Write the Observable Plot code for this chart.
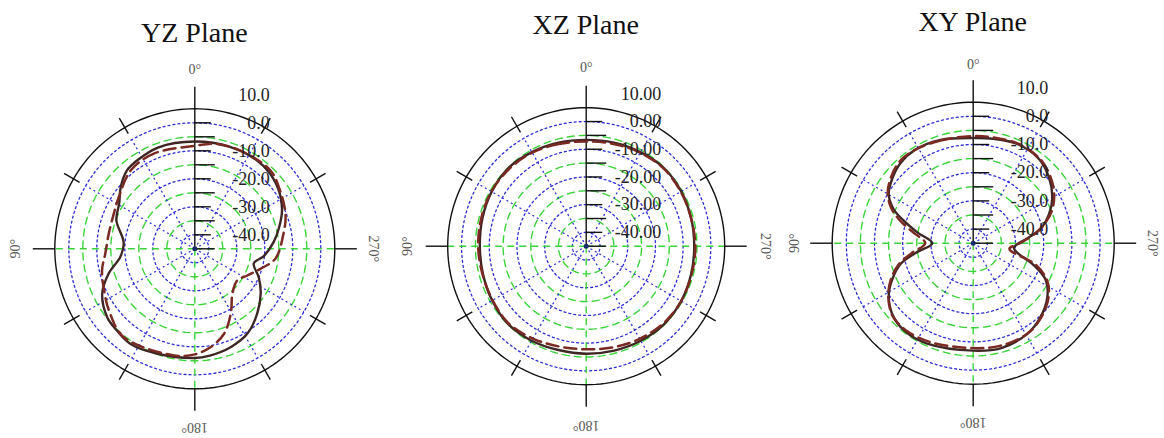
<!DOCTYPE html>
<html><head><meta charset="utf-8">
<script src="https://cdn.jsdelivr.net/npm/d3@7"></script>
<script src="https://cdn.jsdelivr.net/npm/@observablehq/plot@0.6"></script>
<style>
html,body{margin:0;padding:0;background:#fff;overflow:hidden}
#root{position:relative;width:1164px;height:438px;overflow:hidden}
.panel{position:absolute;top:0}
.title{position:absolute;font-family:"Liberation Serif","DejaVu Serif",serif;font-size:28px;color:#111;text-align:center;width:300px;line-height:28px;white-space:nowrap}
</style></head><body><div id="root"></div>
<script>
// ---- data (angle in degrees, counter-clockwise from top; gain in dB) ----
const titles = ["YZ Plane", "XZ Plane", "XY Plane"];
const angleLabels = [0, 90, 180, 270];
const radialLabels = [10, 0, -10, -20, -30, -40];

const yzSolidAngles = [0, 20, 33, 41, 50, 59, 70, 85, 96, 106, 116, 128, 136, 146, 160, 180, 188, 200, 212, 224, 236, 246, 256, 264, 275, 284, 294, 303, 315, 325, 341];
const yzSolidGain   = [-6.7, -6.5, -7.3, -8.0, -10.5, -13.5, -15.2, -19.5, -18.3, -13.0, -8.2, -5.3, -4.7, -4.0, -5.2, -6.0, -6.5, -7.6, -9.4, -12.9, -16.6, -20.0, -23.3, -20.2, -16.7, -14.0, -10.9, -8.8, -7.0, -6.4, -6.5];
const yzDashAngles  = [0, 23, 39, 56, 67, 80, 93, 103, 115, 126, 141, 169, 180, 189, 199, 209, 220, 233, 243, 253, 263, 280, 291, 306, 316, 333, 348];
const yzDashGain    = [-8.2, -8.0, -8.8, -12.2, -13.5, -13.8, -13.0, -11.0, -9.3, -7.2, -4.5, -6.2, -7.3, -9.4, -12.9, -18.5, -24.1, -26.1, -24.0, -20.5, -16.0, -12.8, -10.3, -7.8, -6.1, -6.3, -6.7];

const xzSolidAngles = [0, 15, 30, 45, 60, 75, 90, 105, 120, 135, 150, 165, 180, 195, 210, 225, 240, 255, 270, 285, 300, 315, 330, 345];
const xzSolidGain   = [-6.6, -6.3, -5.8, -5.2, -5.6, -6.2, -6.6, -6.4, -5.8, -5.2, -5.6, -6.2, -6.2, -6.0, -5.6, -5.2, -5.4, -5.8, -6.0, -5.8, -5.4, -5.2, -5.8, -6.3];
const xzDashAngles  = [0, 15, 30, 45, 60, 75, 90, 105, 120, 135, 150, 165, 180, 195, 210, 225, 240, 255, 270, 285, 300, 315, 330, 345];
const xzDashGain    = [-7.2, -6.8, -6.0, -5.6, -5.5, -5.8, -6.0, -6.2, -6.0, -5.5, -6.5, -7.5, -7.8, -7.2, -6.4, -5.6, -5.4, -5.6, -5.6, -5.8, -5.6, -5.4, -6.0, -6.8];

const xySolidAngles = [0, 17.5, 32, 42, 51.5, 60, 67, 72, 79, 90, 99, 106, 114, 121, 131, 142, 155, 180, 195, 211, 222, 234, 243, 250, 258, 264, 275, 282, 291, 300, 311, 322, 336, 349];
const xySolidGain   = [-7.7, -6.6, -6.0, -6.6, -8.3, -10.4, -14.4, -19.1, -24.8, -30.5, -24.9, -18.2, -13.6, -10.1, -6.9, -5.5, -5.8, -6.9, -6.5, -7.6, -9.5, -12.5, -16.1, -22.1, -29.1, -30.5, -25.8, -20.6, -16.2, -12.6, -9.4, -7.1, -6.5, -7.3];
const xyDashAngles  = [0, 17, 32, 42, 52, 60, 67, 73, 80, 90, 99, 106, 114, 122, 132, 143, 157, 180, 195, 211, 222, 234, 243, 251, 261, 270, 277, 284, 292, 301, 311, 322, 336, 349];
const xyDashGain    = [-7.0, -6.8, -6.0, -6.0, -7.8, -10.0, -13.5, -18.0, -23.5, -28.0, -23.0, -17.5, -13.0, -9.5, -6.5, -6.0, -6.8, -7.8, -7.4, -7.6, -9.2, -12.0, -15.5, -21.5, -32.0, -28.5, -24.0, -19.5, -15.0, -11.5, -8.8, -6.8, -6.3, -6.8];

// ---- layout ----
const panels = [
  {title: titles[0], sA: yzSolidAngles, sV: yzSolidGain, dA: yzDashAngles, dV: yzDashGain, dec: 1, cx: 194.3, cy: 248.3, k: 2.80, base: 42},
  {title: titles[1], sA: xzSolidAngles, sV: xzSolidGain, dA: xzDashAngles, dV: xzDashGain, dec: 2, cx: 585.7, cy: 245.7, k: 2.77, base: 34},
  {title: titles[2], sA: xySolidAngles, sV: xySolidGain, dA: xyDashAngles, dV: xyDashGain, dec: 1, cx: 972.7, cy: 242.7, k: 2.82, base: 31}
];
const OFF = 45;                 // centre of the polar plot = -45 dB
const rOf = v => v + OFF;
const OUTER = rOf(5);           // outer black circle at +5 dB
const pt = (a, r) => { const t = a * Math.PI / 180; return {x: -r * Math.sin(t), y: r * Math.cos(t)}; };
const ring = (r, tag) => d3.range(0, 361, 2).map(a => ({...pt(a, r), tag}));
const serif = "'Liberation Serif', 'DejaVu Serif', serif";

const W = 388, H = 438;
const root = document.getElementById("root");

panels.forEach((p, i) => {
  const left = i * W;
  const cxr = p.cx - left;
  const blueRings = [0, -10, -20, -30, -40].flatMap(v => ring(rOf(v), v));
  const greenRings = [-5, -15, -25, -35].flatMap(v => ring(rOf(v), v));
  const outer = ring(OUTER, "o");
  const spokeAngles = [30, 60, 120, 150, 210, 240, 300, 330];
  const radTicks = d3.range(-45, 1, 5);
  const solid = p.sA.map((a, j) => pt(a, rOf(p.sV[j])));
  const dashed = p.dA.map((a, j) => pt(a, rOf(p.dV[j])));
  const px = v => v / p.k;

  const chart = Plot.plot({
    width: W, height: H,
    margin: 0,
    x: {type: "linear", domain: [-cxr / p.k, (W - cxr) / p.k], range: [0, W], axis: null},
    y: {type: "linear", domain: [(p.cy - H) / p.k, p.cy / p.k], range: [H, 0], axis: null},
    style: {background: "transparent"},
    marks: [
      Plot.line(greenRings, {x: "x", y: "y", z: "tag", stroke: "#3ad43a", strokeWidth: 1.4, strokeDasharray: "7,5"}),
      Plot.line(blueRings, {x: "x", y: "y", z: "tag", stroke: "#2c2cd8", strokeWidth: 1.3, strokeDasharray: "2,3"}),
      Plot.link(spokeAngles, {x1: () => 0, y1: () => 0, x2: a => pt(a, rOf(0)).x, y2: a => pt(a, rOf(0)).y, stroke: "#2c2cd8", strokeWidth: 1.3, strokeDasharray: "2,3"}),
      Plot.link([90, 180, 270], {x1: () => 0, y1: () => 0, x2: a => pt(a, OUTER).x, y2: a => pt(a, OUTER).y, stroke: "#3ad43a", strokeWidth: 1.4, strokeDasharray: "7,5"}),
      Plot.line(outer, {x: "x", y: "y", stroke: "#111", strokeWidth: 1.4}),
      Plot.link([90, 180, 270], {x1: a => pt(a, OUTER).x, y1: a => pt(a, OUTER).y, x2: a => pt(a, OUTER + px(22)).x, y2: a => pt(a, OUTER + px(22)).y, stroke: "#111", strokeWidth: 1.4}),
      Plot.link([0], {x1: () => 0, y1: () => 0, x2: a => pt(a, OUTER + px(22)).x, y2: a => pt(a, OUTER + px(22)).y, stroke: "#111", strokeWidth: 1.4}),
      Plot.link(spokeAngles, {x1: a => pt(a, OUTER - px(7)).x, y1: a => pt(a, OUTER - px(7)).y, x2: a => pt(a, OUTER + px(11)).x, y2: a => pt(a, OUTER + px(11)).y, stroke: "#111", strokeWidth: 1.4}),
      Plot.link(radTicks, {x1: () => 0, y1: v => rOf(v), x2: v => px(v % 10 === 0 ? 16 : 20), y2: v => rOf(v), stroke: "#111", strokeWidth: 1.4}),
      Plot.dot([0], {x: () => 0, y: () => 0, r: 2.5, fill: "#1a2a6a", stroke: "none"}),
      Plot.line(solid, {x: "x", y: "y", curve: "catmull-rom-closed", stroke: "#3e2624", strokeWidth: 2.4}),
      Plot.line(dashed, {x: "x", y: "y", curve: "catmull-rom-closed", stroke: "#7a2a22", strokeWidth: 2.5, strokeDasharray: "12,6"}),
      Plot.text(radialLabels, {x: () => px(75), y: v => rOf(v), text: v => v.toFixed(p.dec), textAnchor: "end", fontFamily: serif, fontSize: 18, fill: "#222"}),
      Plot.text(angleLabels, {x: a => pt(a, px(179)).x, y: a => pt(a, px(179)).y, text: a => a + "°", rotate: a => -a, fontFamily: serif, fontSize: 14, fill: "#555"})
    ]
  });
  chart.classList.add("panel");
  chart.style.left = left + "px";
  root.appendChild(chart);

  const t = document.createElement("div");
  t.className = "title";
  t.textContent = p.title;
  t.style.left = (p.cx - 150) + "px";
  t.style.top = (p.base - 23) + "px";
  root.appendChild(t);
});
</script>
</body></html>
